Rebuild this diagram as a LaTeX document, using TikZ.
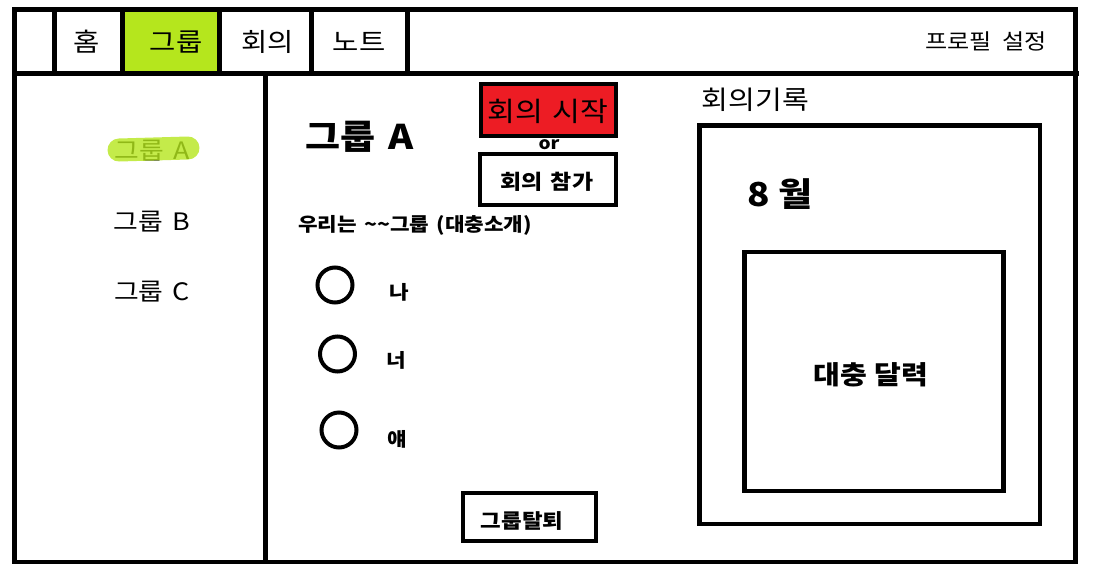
\documentclass[tikz,border=0pt]{standalone}
\usepackage{fontspec}
\setmainfont{Noto Sans CJK KR}[FakeStretch=1.12, WordSpace=1.5]
\definecolor{tabgreen}{HTML}{B5E61D}
\definecolor{btnred}{HTML}{ED1C24}
\tikzset{
  frame/.style={line width=4.5pt, line cap=rect},
  box/.style={draw, line width=4.5pt, inner sep=0pt},
  lbl/.style={inner sep=0pt},
  member/.style={draw, circle, line width=4pt, minimum size=35pt, inner sep=0pt}
}
\newcommand{\fs}[1]{\fontsize{#1}{#1}\selectfont}
\begin{document}
\begin{tikzpicture}[x=1pt,y=-1pt]
\useasboundingbox (0,0) rectangle (1095,579);
% green active tab
\fill[tabgreen] (122.5,9.5) rectangle (219.5,73.5);
% outer frame and bars
\draw[frame] (14.5,9.5) rectangle (1075.5,562);
\draw[frame] (14.5,73.5) -- (1077,73.5);
\foreach \x in {54.5,122.5,219.5,311.5,407.5}
  \draw[frame] (\x,9.5) -- (\x,73.5);
\draw[frame] (265.5,73.5) -- (265.5,562);
% top menu
\node[lbl] (home)  at (87,42)  {\fs{25.5}홈};
\node[lbl] (group) at (176,42) {\fs{25.5}그룹};
\node[lbl] (meet)  at (267.5,42) {\fs{25.5}회의};
\node[lbl] (note)  at (359,42) {\fs{25.5}노트};
\node[lbl] (prof)  at (986,41) {\fs{21.5}프로필\hspace{10pt}설정};
% sidebar
\node[lbl] (sideA) at (152,151) {\fs{24}그룹\hspace{9pt}A};
\draw[tabgreen, opacity=0.8, line width=23pt, line cap=round] (119,150) -- (188,148);
\node[lbl] (sideB) at (152,222) {\fs{24}그룹\hspace{9pt}B};
\node[lbl] (sideC) at (152,292) {\fs{24}그룹\hspace{9pt}C};
% group panel
\node[lbl] (title) at (360,137) {\fs{34}\bfseries 그룹\hspace{13pt}A};
\node[box, fill=btnred, minimum width=135pt, minimum height=52pt] (start) at (548.5,110) {};
\node[lbl] (startlbl) at (548,111) {\fs{27}회의\hspace{9pt}시작};
\node[lbl] (or) at (549,145) {\fs{17}\bfseries or};
\node[box, minimum width=136pt, minimum height=51pt] (join) at (548,179.5) {};
\node[lbl] (joinlbl) at (547,182) {\fs{20.5}\bfseries 회의 참가};
\node[lbl] (intro) at (415,225) {\fs{19}\bfseries 우리는 \textasciitilde\textasciitilde 그룹 (대충소개)};
\node[member] (c1) at (335,285) {};
\node[member] (c2) at (337.5,354) {};
\node[member] (c3) at (339,430) {};
\node[lbl] (m1) at (399,292) {\fs{19}\bfseries 나};
\node[lbl] (m2) at (396,360) {\fs{19}\bfseries 너};
\node[lbl] (m3) at (397,439) {\fs{19}\bfseries 얘};
\node[box, minimum width=133pt, minimum height=48pt] (leave) at (529.5,517) {};
\node[lbl] (leavelbl) at (522,521) {\fs{20}\bfseries 그룹탈퇴};
% meeting record
\node[lbl] (rec) at (755.5,100) {\fs{26}회의기록};
\node[box, minimum width=340.5pt, minimum height=398.5pt] (cal) at (869.75,324.75) {};
\node[lbl] (month) at (780,194) {\fs{33}\bfseries 8\hspace{9pt}월};
\node[box, minimum width=259pt, minimum height=239pt] (calin) at (874,371.5) {};
\node[lbl] (callbl) at (871,374.5) {\fs{26}\bfseries 대충\hspace{7pt}달력};
\end{tikzpicture}
\end{document}
